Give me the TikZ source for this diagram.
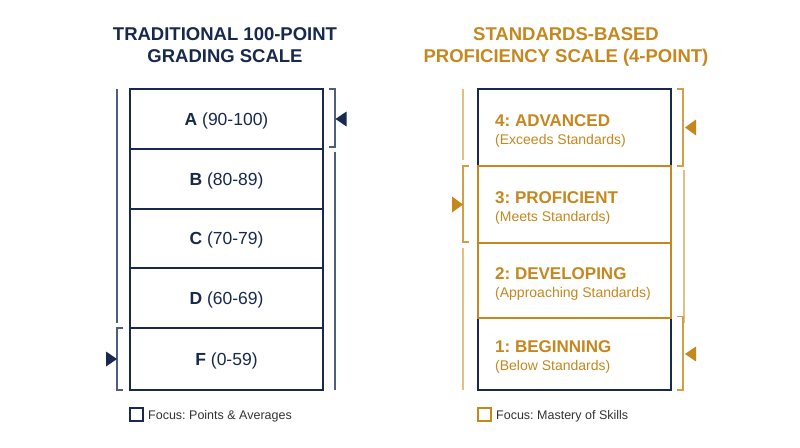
\documentclass[tikz,border=0pt]{standalone}
\usepackage{fontspec}
\setmainfont{Liberation Sans}
\definecolor{navy}{HTML}{17294D}
\definecolor{gold}{HTML}{C5871E}
\definecolor{lgold}{HTML}{E3BF84}
\definecolor{lnavy}{HTML}{4F5E7A}
\definecolor{gtxt}{HTML}{333333}
\begin{document}
\frenchspacing
\begin{tikzpicture}[x=1pt,y=-1pt,
  nbox/.style={draw=navy,line width=2.2pt,minimum width=193pt,inner sep=0pt,outer sep=0pt},
  gbox/.style={draw=gold,line width=2.2pt,minimum width=193pt,inner sep=0pt,outer sep=0pt},
  ntitle/.style={text=navy,font=\fontsize{18.5}{20}\selectfont\bfseries,anchor=base,inner sep=0pt},
  gtitle/.style={text=gold,font=\fontsize{18.5}{20}\selectfont\bfseries,anchor=base,inner sep=0pt},
  glabel/.style={text=navy,font=\fontsize{17.5}{19}\selectfont,anchor=base,inner sep=0pt},
  ghead/.style={text=gold,font=\fontsize{17}{19}\selectfont\bfseries,anchor=base west,inner sep=0pt},
  gsub/.style={text=gold,font=\fontsize{14}{16}\selectfont,anchor=base west,inner sep=0pt},
  nline/.style={draw=lnavy,line width=1.1pt},
  gline/.style={draw=lgold,line width=1.1pt},
  gbr/.style={draw=gold!80!white,line width=1.2pt},
  legtxt/.style={text=gtxt,font=\fontsize{12.5}{14}\selectfont,anchor=base west,inner sep=0pt},
  legbox/.style={minimum size=13pt,inner sep=0pt,line width=1.1pt}
]
\useasboundingbox[fill=white] (0,0) rectangle (800,447);

% Titles
\node[ntitle] (t1a) at (225,40.5) {TRADITIONAL 100-POINT};
\node[ntitle] (t1b) at (225,62) {GRADING SCALE};
\node[gtitle] (t2a) at (566,40.5) {STANDARDS-BASED};
\node[gtitle] (t2b) at (566,62) {PROFICIENCY SCALE (4-POINT)};

% Left column boxes
\node[nbox,minimum height=60pt] (A) at (226.5,119) {};
\node[nbox,minimum height=60pt] (B) at (226.5,179) {};
\node[nbox,minimum height=59pt] (C) at (226.5,238.5) {};
\node[nbox,minimum height=60pt] (D) at (226.5,298) {};
\node[nbox,minimum height=62pt] (F) at (226.5,359) {};

\node[glabel] (lA) at ([yshift=-6pt]A.center) {\textbf{A} (90-100)};
\node[glabel] (lB) at ([yshift=-6pt]B.center) {\textbf{B} (80-89)};
\node[glabel] (lC) at ([yshift=-6pt]C.center) {\textbf{C} (70-79)};
\node[glabel] (lD) at ([yshift=-6pt]D.center) {\textbf{D} (60-69)};
\node[glabel] (lF) at ([yshift=-6pt]F.center) {\textbf{F} (0-59)};

% Left column brackets
\draw[nline] ([xshift=-13pt]A.north west) -- ([xshift=-13pt,yshift=5pt]F.north west);
\draw[nline] ([xshift=-7pt]F.north west) -- ([xshift=-13pt]F.north west) -- ([xshift=-13pt]F.south west) -- ([xshift=-7pt]F.south west);
\fill[navy] ([xshift=-13pt]F.west) -- ([xshift=-24pt,yshift=7.5pt]F.west) -- ([xshift=-24pt,yshift=-7.5pt]F.west) -- cycle;

\draw[nline] ([xshift=6pt]A.north east) -- ([xshift=12pt]A.north east) -- ([xshift=12pt,yshift=2pt]A.south east) -- ([xshift=6pt,yshift=2pt]A.south east);
\draw[nline] ([xshift=12pt,yshift=-3pt]B.north east) -- ([xshift=12pt]F.south east);
\fill[navy] ([xshift=12.5pt]A.east) -- ([xshift=23.5pt,yshift=7.5pt]A.east) -- ([xshift=23.5pt,yshift=-7.5pt]A.east) -- cycle;

% Right column boxes
\node[nbox,minimum height=301pt] (frame) at (574.5,239.5) {};
\node[nbox,minimum height=77pt] (R4) at (574.5,127.5) {};
\node[nbox,minimum height=72pt] (R1) at (574.5,354) {};
\node[gbox,minimum height=77pt] (R3) at (574.5,204.5) {};
\node[gbox,minimum height=75pt] (R2) at (574.5,280.5) {};

\node[ghead] (h4) at (495,126) {4: ADVANCED};
\node[gsub]  (s4) at (495,144) {(Exceeds Standards)};
\node[ghead] (h3) at (495,203) {3: PROFICIENT};
\node[gsub]  (s3) at (495,221) {(Meets Standards)};
\node[ghead] (h2) at (495,279) {2: DEVELOPING};
\node[gsub]  (s2) at (495,297) {(Approaching Standards)};
\node[ghead] (h1) at (495,352.5) {1: BEGINNING};
\node[gsub]  (s1) at (495,370.5) {(Below Standards)};

% Right column brackets
\draw[gline] ([xshift=-15pt]R4.north west) -- ([xshift=-15pt,yshift=6pt]R3.north west);
\draw[gbr] ([xshift=-9pt]R3.north west) -- ([xshift=-15pt]R3.north west) -- ([xshift=-15pt,yshift=1pt]R3.south west) -- ([xshift=-9pt,yshift=1pt]R3.south west);
\draw[gline] ([xshift=-15pt,yshift=-5pt]R2.north west) -- ([xshift=-15pt]R1.south west);
\fill[gold] ([xshift=-15pt]R3.west) -- ([xshift=-26pt,yshift=8pt]R3.west) -- ([xshift=-26pt,yshift=-8pt]R3.west) -- cycle;

\draw[gbr] ([xshift=6pt]R4.north east) -- ([xshift=12pt]R4.north east) -- ([xshift=12pt]R4.south east) -- ([xshift=6pt]R4.south east);
\draw[gline] ([xshift=13pt,yshift=-4pt]R3.north east) -- ([xshift=13pt,yshift=-5pt]R2.south east);
\draw[gbr] ([xshift=6pt,yshift=1.5pt]R1.north east) -- ([xshift=12pt,yshift=1.5pt]R1.north east) -- ([xshift=12pt]R1.south east) -- ([xshift=6pt]R1.south east);
\fill[gold] ([xshift=14pt]R4.east) -- ([xshift=25pt,yshift=8pt]R4.east) -- ([xshift=25pt,yshift=-8pt]R4.east) -- cycle;
\fill[gold] ([xshift=14pt]R1.east) -- ([xshift=25pt,yshift=7.5pt]R1.east) -- ([xshift=25pt,yshift=-7.5pt]R1.east) -- cycle;

% Legend
\node[legbox,draw=navy] (k1) at (136.5,414.5) {};
\node[legtxt] (k1t) at (148,419) {Focus: Points \& Averages};
\node[legbox,draw=gold] (k2) at (484.5,414.5) {};
\node[legtxt] (k2t) at (496,419) {Focus: Mastery of Skills};
\end{tikzpicture}
\end{document}
